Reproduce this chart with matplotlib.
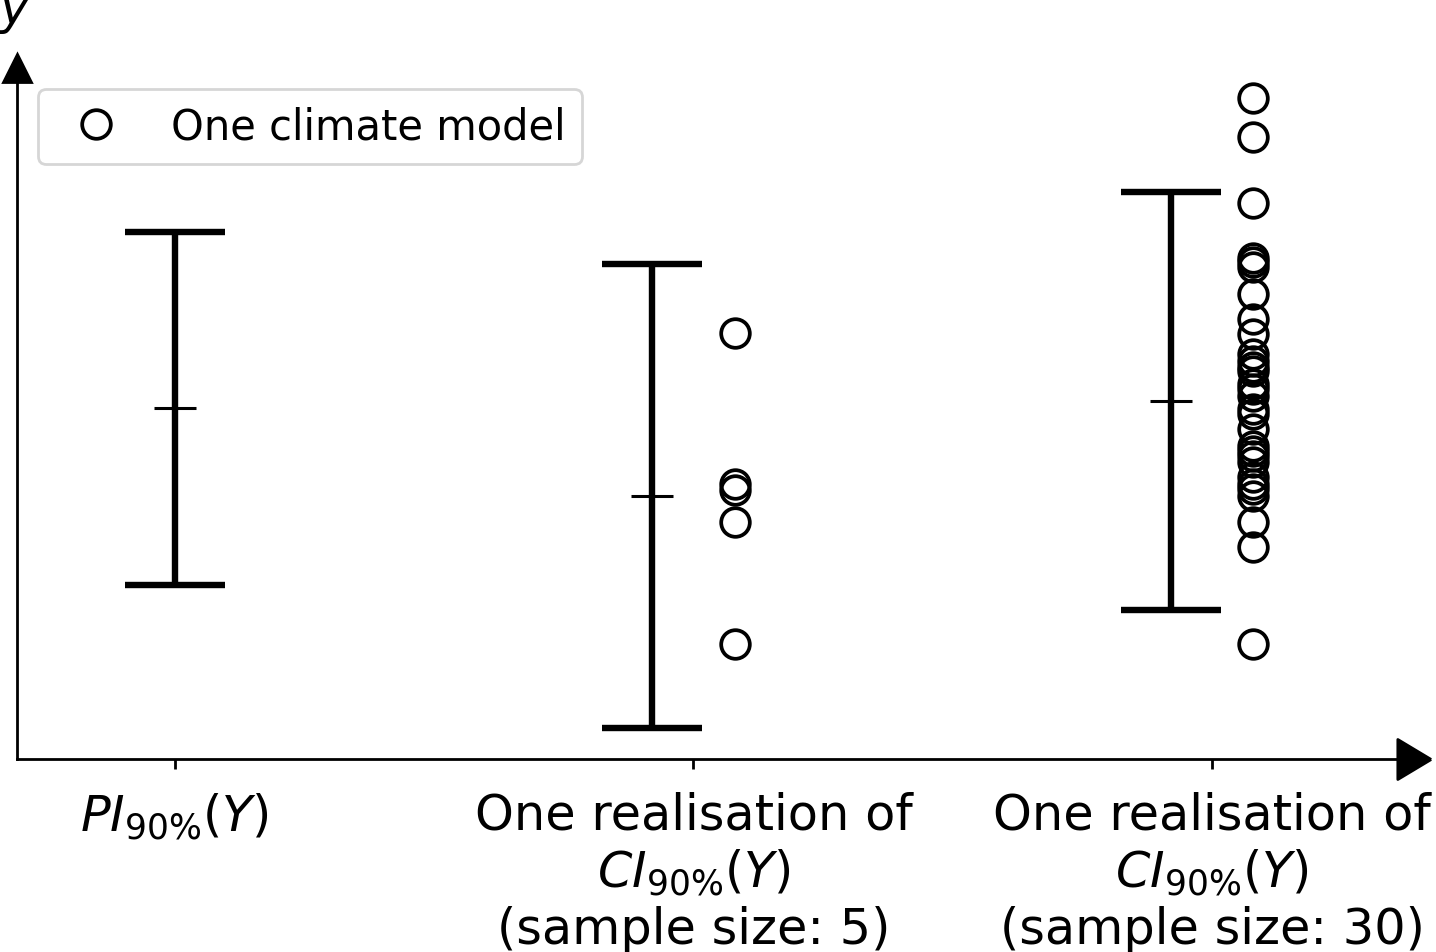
import matplotlib
matplotlib.use("Agg")
import matplotlib.pyplot as plt
import numpy as np

# ---- data (arbitrary y units) ----
tick_positions = [0, 1, 2]
tick_labels = [r"$PI_{90\%}(Y)$",
               "One realisation of\n" + r"$CI_{90\%}(Y)$" + "\n(sample size: 5)",
               "One realisation of\n" + r"$CI_{90\%}(Y)$" + "\n(sample size: 30)"]

interval_x = [0.0, 0.92, 1.92]
interval_low = [1.74, 0.31, 1.49]
interval_high = [5.27, 4.95, 5.67]
interval_center = [3.51, 2.63, 3.58]

models5_x = 1.08
models5 = [4.26, 2.75, 2.69, 2.37, 1.15]

models30_x = 2.08
models30 = [6.61, 6.22, 5.56, 5.01, 4.97, 4.92, 4.65, 4.40, 4.25, 4.05,
            3.98, 3.92, 3.88, 3.75, 3.70, 3.63, 3.50, 3.45, 3.30, 3.13,
            3.08, 3.03, 2.97, 2.82, 2.75, 2.70, 2.63, 2.37, 2.12, 1.15]

# ---- figure ----
W, H = 1436, 953
fig = plt.figure(figsize=(W / 200, H / 200), dpi=200)
ax = fig.add_axes([17 / W, 1 - 760 / H, (1414 - 17) / W, (760 - 69) / H])

low = np.array(interval_low)
high = np.array(interval_high)
cen = np.array(interval_center)
ax.errorbar(interval_x, cen, yerr=[cen - low, high - cen], fmt='none',
            ecolor='black', elinewidth=2.3, capsize=18, capthick=2.3)
ax.plot(interval_x, cen, linestyle='none', marker='_', color='black',
        markersize=15, markeredgewidth=1.1)

ax.plot([models5_x] * len(models5), models5, linestyle='none', marker='o',
        markersize=10.3, markerfacecolor='none', markeredgecolor='black',
        markeredgewidth=1.35, label='One climate model')
ax.plot([models30_x] * len(models30), models30, linestyle='none', marker='o',
        markersize=10.3, markerfacecolor='none', markeredgecolor='black',
        markeredgewidth=1.35)

ax.set_xlim(-0.3047, 2.3896)
ax.set_ylim(0, 6.91)

ax.spines['top'].set_visible(False)
ax.spines['right'].set_visible(False)
ax.spines['left'].set_linewidth(1.0)
ax.spines['bottom'].set_linewidth(1.0)
ax.set_yticks([])
ax.set_xticks(tick_positions)
ax.set_xticklabels(tick_labels, fontsize=17.8)
ax.tick_params(axis='x', width=1.0, length=3.5, pad=8)

# axis arrows
right_arrow = [(1, 0), (-1, 1.2), (-1, -1.2), (1, 0)]
ax.plot(1, 0, marker=right_arrow, color='black', markersize=14.4,
        transform=ax.transAxes, clip_on=False)
ax.plot(0, 1, marker='^', color='black', markersize=10,
        transform=ax.transAxes, clip_on=False)

fig.text(15 / W, 1 - 24 / H, r"$y$", ha='center', va='baseline', fontsize=17.8)

ax.legend(loc='upper left', fontsize=15)

fig.savefig("out.png", dpi=200)
